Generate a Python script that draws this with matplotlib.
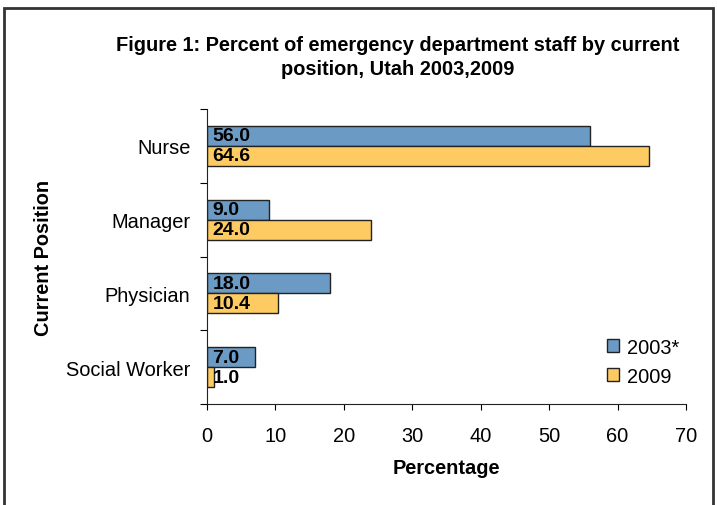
import numpy as np
import matplotlib
matplotlib.use('Agg')
import matplotlib.pyplot as plt
from matplotlib.patches import Rectangle

plt.rcParams['font.family'] = ['Liberation Sans', 'DejaVu Sans']

positions = ["Nurse", "Manager", "Physician", "Social Worker"]
pct_2003 = [56.0, 9.0, 18.0, 7.0]
pct_2009 = [64.6, 24.0, 10.4, 1.0]
series_labels = ["2003*", "2009"]

BLUE = "#6b9ac4"
ORANGE = "#fdcb62"
FS = 14.4

fig = plt.figure(figsize=(7.17, 5.06), dpi=100)
ax = fig.add_axes([0.2887, 0.1996, 0.6681, 0.583])

y = np.arange(len(positions))
h = 0.27
b1 = ax.barh(y - h / 2, pct_2003, height=h, color=BLUE, edgecolor="#222222",
             linewidth=1, label=series_labels[0])
b2 = ax.barh(y + h / 2, pct_2009, height=h, color=ORANGE, edgecolor="#222222",
             linewidth=1, label=series_labels[1])

for bars, vals in [(b1, pct_2003), (b2, pct_2009)]:
    for bar, v in zip(bars, vals):
        ax.text(0.8, bar.get_y() + bar.get_height() / 2, f"{v:.1f}",
                va="center", ha="left", fontsize=14, fontweight="bold")

ax.set_ylim(len(positions) - 0.5, -0.5)
ax.set_xlim(0, 70)
ax.set_xticks(range(0, 71, 10))
ax.set_yticks(np.arange(-0.5, len(positions), 1.0))
ax.set_yticklabels([])
ax.set_yticks(y, minor=True)
ax.set_yticklabels(positions, minor=True)
ax.tick_params(axis="y", which="minor", length=0, labelsize=FS, pad=12)
ax.tick_params(axis="y", which="major", length=5, direction="out")
ax.tick_params(axis="x", length=4.5, direction="out", labelsize=FS, pad=11)

for s in ["top", "right"]:
    ax.spines[s].set_visible(False)
for s in ["left", "bottom"]:
    ax.spines[s].set_color("#222222")

ax.set_xlabel("Percentage", fontsize=FS, fontweight="bold")
ax.xaxis.label.set_va("center")
ax.xaxis.set_label_coords(0.5, -0.214)
ax.set_ylabel("Current Position", fontsize=FS, fontweight="bold")
ax.yaxis.label.set_va("center")
ax.yaxis.set_label_coords(-0.342, 0.5)

leg = ax.legend(loc="upper left", bbox_to_anchor=(0.835, 0.225), frameon=False,
                fontsize=FS, handlelength=0.6, handleheight=0.6,
                handletextpad=0.4, labelspacing=0.5, borderpad=0,
                borderaxespad=0)

fig.text(0.555, 0.911, "Figure 1: Percent of emergency department staff by current",
         ha="center", va="center", fontsize=FS, fontweight="bold")
fig.text(0.555, 0.862, "position, Utah 2003,2009",
         ha="center", va="center", fontsize=FS, fontweight="bold")

fig.patches.append(Rectangle((4 / 717, -0.1), 709 / 717, 1.1 - 9 / 506,
                             transform=fig.transFigure, fill=False,
                             edgecolor="#333333", linewidth=2))

fig.savefig("out.png", dpi=100)
